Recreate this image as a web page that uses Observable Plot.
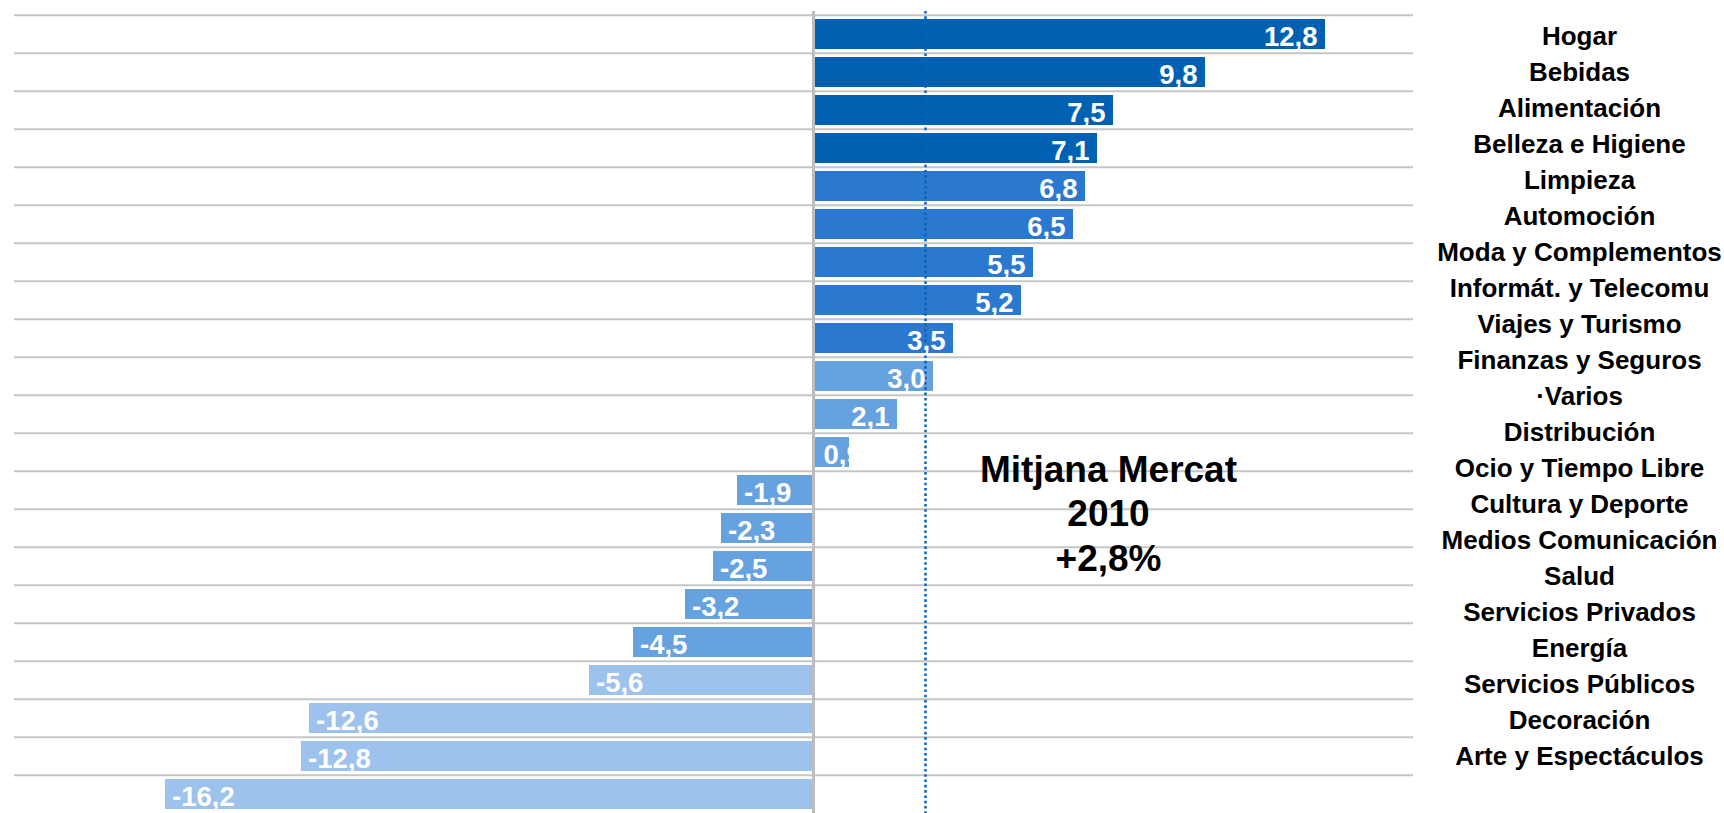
<!DOCTYPE html>
<html><head><meta charset="utf-8">
<script src="https://cdn.jsdelivr.net/npm/d3@7"></script>
<script src="https://cdn.jsdelivr.net/npm/@observablehq/plot@0.6"></script>
<style>
html,body{margin:0;padding:0;background:#fff;}
#wrap{position:relative;width:1724px;height:813px;overflow:hidden;}
#wrap svg{position:absolute;left:0;top:0;}
</style></head><body><div id="wrap"></div>
<script>
const categories = ["Hogar","Bebidas","Alimentación","Belleza e Higiene","Limpieza","Automoción","Moda y Complementos","Informát. y Telecomu","Viajes y Turismo","Finanzas y Seguros","·Varios","Distribución","Ocio y Tiempo Libre","Cultura y Deporte","Medios Comunicación","Salud","Servicios Privados","Energía","Servicios Públicos","Decoración","Arte y Espectáculos"];
const values = [12.8, 9.8, 7.5, 7.1, 6.8, 6.5, 5.5, 5.2, 3.5, 3.0, 2.1, 0.9, -1.9, -2.3, -2.5, -3.2, -4.5, -5.6, -12.6, -12.8, -16.2];
const marketMean = 2.8;
const annotationLines = ["Mitjana Mercat", "2010", "+2,8%"];
const tierBreaks = [-5, 3.25, 7];
const tierColors = ["#9dc3ec", "#66a1e0", "#2a78cf", "#0061b3"];

const data = categories.map((c, i) => ({category: c, value: values[i]}));
const fmt = v => d3.format(".1f")(v).replace(".", ",").replace("\u2212", "-");
const font = "Liberation Sans, Arial, sans-serif";

// layout
const W = 1724, H = 813, frameL = 14, frameR = 1413, zeroX = 813, pxPerUnit = 40;
const xDomain = [(frameL - zeroX) / pxPerUnit, (frameR - zeroX) / pxPerUnit];
const step = 38.4, top0 = 11;

const main = Plot.plot({
  width: W, height: H,
  marginLeft: frameL, marginRight: W - frameR, marginTop: top0, marginBottom: 0,
  style: {fontFamily: font, background: "transparent"},
  x: {domain: xDomain, axis: null},
  y: {type: "band", domain: categories, range: [top0, top0 + step * categories.length], paddingInner: 0.21, paddingOuter: 0.105, axis: null},
  color: {type: "threshold", domain: tierBreaks, range: tierColors},
  marks: [
    Plot.ruleY(categories, {y: d => d, dy: -step / 2, stroke: "#c6c6c6", strokeWidth: 2}),
    Plot.barX(data, {y: "category", x: "value", fill: "value"}),
    Plot.ruleX([0], {stroke: "#bdbdbd", strokeWidth: 3}),
    Plot.ruleX([marketMean], {stroke: "#0b63b8", strokeWidth: 2.5, strokeDasharray: "2.6,2.7"}),
    Plot.text(data.filter(d => d.value >= 1), {y: "category", x: "value", text: d => fmt(d.value), textAnchor: "end", dx: -8, dy: 3, fill: "white", fontSize: 27.5, fontWeight: "bold", fontFamily: font}),
    Plot.text(data.filter(d => d.value > 0 && d.value < 1), {y: "category", x: d => 0, text: d => fmt(d.value), textAnchor: "start", dx: 10, dy: 3, fill: "white", fontSize: 27.5, fontWeight: "bold", fontFamily: font}),
    Plot.text(data.filter(d => d.value < 0), {y: "category", x: "value", text: d => fmt(d.value), textAnchor: "start", dx: 6.5, dy: 3, fill: "white", fontSize: 27.5, fontWeight: "bold", fontFamily: font}),
    Plot.text([annotationLines.join("\n")], {frameAnchor: "top-left", dx: 1108 - frameL, dy: 450 - top0, textAnchor: "middle", lineAnchor: "top", fontSize: 37, fontWeight: "bold", lineHeight: 1.2, fill: "black", fontFamily: font})
  ]
});

const labelCenter = 1579;
const labels = Plot.plot({
  width: W, height: H,
  marginLeft: labelCenter - (W - labelCenter), marginRight: 0, marginTop: 0, marginBottom: 0,
  style: {fontFamily: font, background: "transparent"},
  y: {type: "band", domain: categories, range: [15.2, 776.4], padding: 0, axis: null},
  marks: [
    Plot.text(categories, {y: d => d, text: d => d, frameAnchor: "middle", fontSize: 26, fontWeight: "bold", fill: "black", dy: 0.5, fontFamily: font})
  ]
});

const wrap = document.getElementById("wrap");
wrap.appendChild(main);
wrap.appendChild(labels);
</script>
</body></html>
